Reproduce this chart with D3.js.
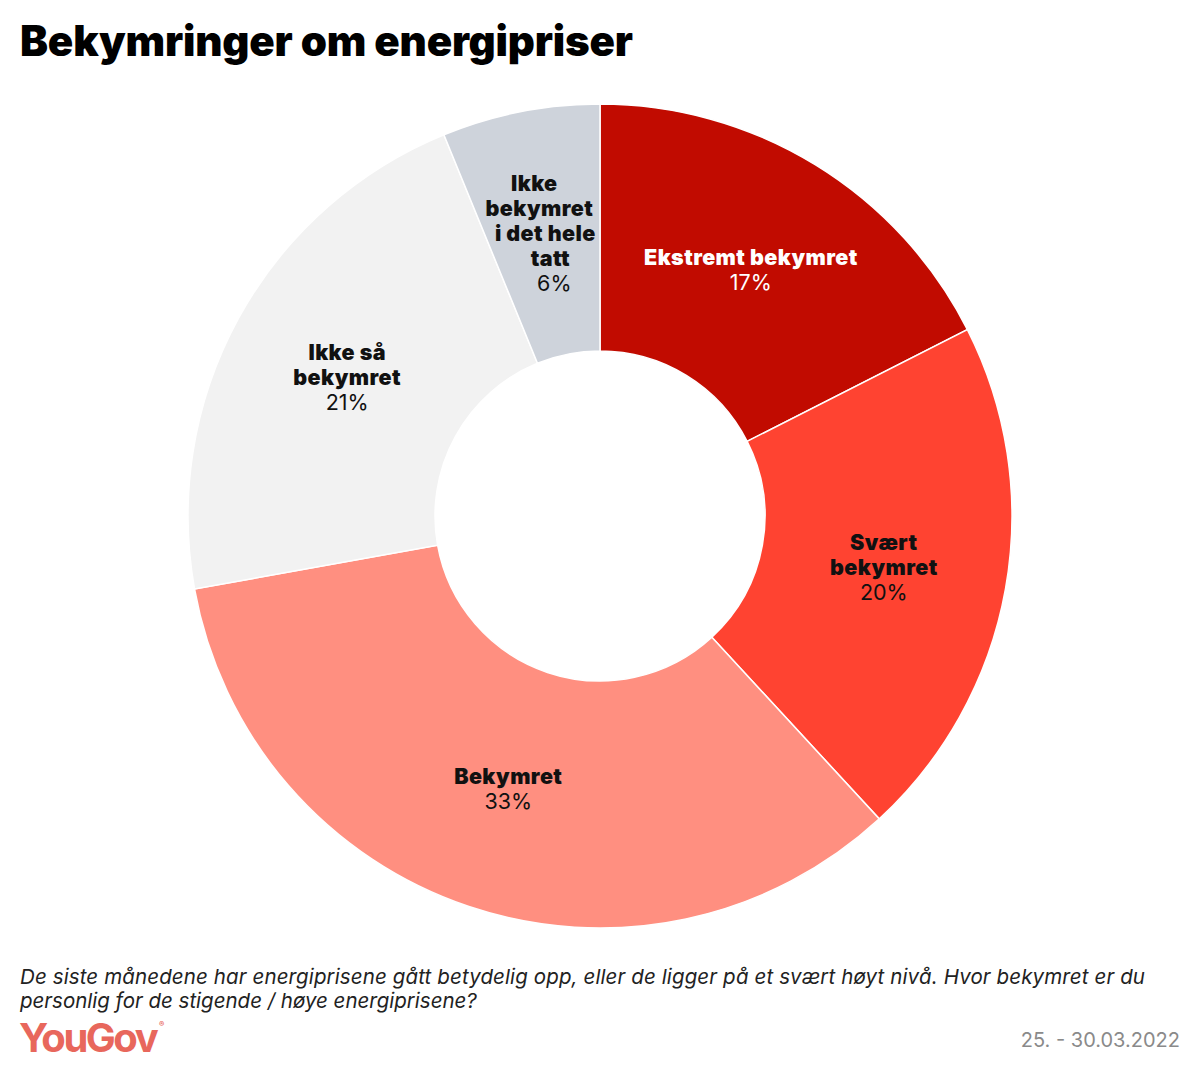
<!DOCTYPE html>
<html><head><meta charset="utf-8">
<script src="https://cdn.jsdelivr.net/npm/d3@7"></script>
<style>body{margin:0;background:#fff}svg{display:block}</style>
</head><body>
<script>
const categories = ["Ekstremt bekymret", "Svært bekymret", "Bekymret", "Ikke så bekymret", "Ikke bekymret i det hele tatt"];
const labelLines = [["Ekstremt bekymret"], ["Svært", "bekymret"], ["Bekymret"], ["Ikke så", "bekymret"], ["Ikke", "bekymret", "i det hele", "tatt"]];
const values = [17, 20, 33, 21, 6];
const colors = ["#C10B00", "#FF4331", "#FF8F80", "#F2F2F2", "#CED3DB"];
const textColors = ["#fff", "#111", "#111", "#111", "#111"];
const title = "Bekymringer om energipriser";
const note = ["De siste månedene har energiprisene gått betydelig opp, eller de ligger på et svært høyt nivå. Hvor bekymret er du", "personlig for de stigende / høye energiprisene?"];
const dateText = "25. - 30.03.2022";

const W = 1200, H = 1078;
const svg = d3.select("body").append("svg").attr("width", W).attr("height", H);
svg.append("text").attr("x", 20).attr("y", 56).text(title)
  .attr("font-family", "Inter").attr("font-weight", 900).attr("font-size", 42).attr("fill", "#000").attr("letter-spacing", -0.2);

const cx = 600, cy = 516, R = 412, r0 = 165;
const pie = d3.pie().sort(null).value(d => d)(values);
const arc = d3.arc().innerRadius(r0).outerRadius(R);
const g = svg.append("g").attr("transform", `translate(${cx},${cy})`);
g.selectAll("path").data(pie).join("path").attr("d", arc)
  .attr("fill", (d, i) => colors[i]).attr("stroke", "#fff").attr("stroke-width", 1.5);

const labR = 0.70;
const lineDx = [[0], [0, 0], [0], [0, 0], [-10, -5, 1, 6, 10]];
const fs = 21.5, lh = 25;
pie.forEach((d, i) => {
  const a = (d.startAngle + d.endAngle) / 2;
  const rr = R * labR;
  const x = Math.sin(a) * rr, y = -Math.cos(a) * rr;
  const lines = labelLines[i];
  const n = lines.length + 1;
  const y0 = y - (n - 1) * lh / 2;
  const t = g.append("g");
  lines.forEach((ln, k) => {
    t.append("text").attr("x", x + lineDx[i][k]).attr("y", y0 + k * lh).attr("dy", "0.35em")
      .attr("text-anchor", "middle").attr("font-family", "Inter").attr("font-weight", 900)
      .attr("font-size", fs).attr("fill", textColors[i]).attr("letter-spacing", 0.4).text(ln);
  });
  t.append("text").attr("x", x + lineDx[i][lineDx[i].length - 1]).attr("y", y0 + lines.length * lh).attr("dy", "0.35em")
    .attr("text-anchor", "middle").attr("font-family", "Inter").attr("font-weight", 400)
    .attr("font-size", fs).attr("fill", textColors[i]).text(d3.format(".0f")(values[i]) + "%");
});

note.forEach((ln, k) => {
  const t = svg.append("text").attr("x", 20).attr("y", 984 + k * 24).text(ln)
    .attr("font-family", "Inter").attr("font-style", "italic").attr("font-size", 20.5).attr("fill", "#222");
  if (k === 0) t.attr("textLength", 1125).attr("lengthAdjust", "spacing");
});
const logo = svg.append("text").attr("x", 19).attr("y", 1052)
  .attr("font-family", "Inter").attr("font-weight", 700).attr("font-size", 40).attr("letter-spacing", -2.5).attr("fill", "#E8675C");
logo.append("tspan").text("YouGov");
logo.append("tspan").attr("font-size", 8).attr("dy", -25).attr("dx", 3).attr("letter-spacing", 0).text("®");
svg.append("text").attr("x", 1180).attr("y", 1047).attr("text-anchor", "end").text(dateText)
  .attr("font-family", "Inter").attr("font-size", 20).attr("fill", "#8a8a8a");
</script>
</body></html>
